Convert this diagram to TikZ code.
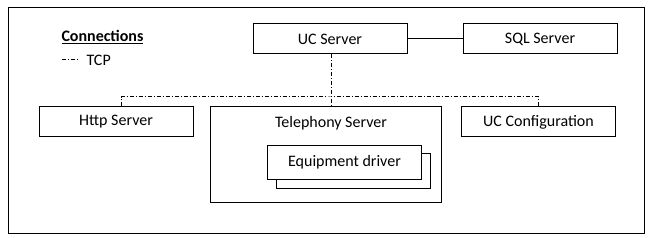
\documentclass[tikz,border=0pt]{standalone}
\usepackage{fontspec}
\setmainfont{Carlito}
\usetikzlibrary{positioning}
\begin{document}
\begin{tikzpicture}[
  x=0.75pt, y=-0.75pt,
  line width=0.75pt,
  font=\fontsize{12}{14}\selectfont,
  box/.style={draw, fill=white, minimum width=115.5pt, minimum height=22.5pt, inner sep=0pt},
  tcp/.style={dash pattern=on 3pt off 1.5pt on 0.75pt off 1.5pt}
]
  \useasboundingbox (0,0) rectangle (648,238);
  \draw (8,8) rectangle (644,233);

  % legend
  \node[anchor=west, inner sep=0pt, font=\fontsize{12}{14}\selectfont\bfseries] (legend) at (61,37) {\underline{Connections}};
  \coordinate (l1) at (62,60);
  \coordinate (l2) at (78,60);
  \draw[tcp] (l1) -- (l2);
  \node[anchor=west, inner sep=0pt] (tcplbl) at (86,60) {TCP};

  % servers
  \node[box] (uc) at (330,39) {UC Server};
  \node[box] (sql) at (540,39) {SQL Server};
  \node[box] (http) at (116,122) {Http Server};
  \node[box] (conf) at (538.5,122) {UC Configuration};
  \node[draw, minimum width=173.25pt, minimum height=71.25pt, inner sep=0pt] (tel) at (325.5,154.5) {};
  \node (tellbl) at (331,123) {Telephony Server};
  \node[box, minimum height=25.5pt] (drv2) at (353,171) {};
  \node[box, minimum height=25.5pt] (drv) at (344.5,162.5) {Equipment driver};

  % connections
  \draw (uc) -- (sql);
  \coordinate (bus) at (331,97);
  \draw[tcp] (uc.south -| bus) -- (tel.north -| bus);
  \draw[tcp] ([xshift=3.75pt]http.north) |- (bus) -| (conf.north);
\end{tikzpicture}
\end{document}
